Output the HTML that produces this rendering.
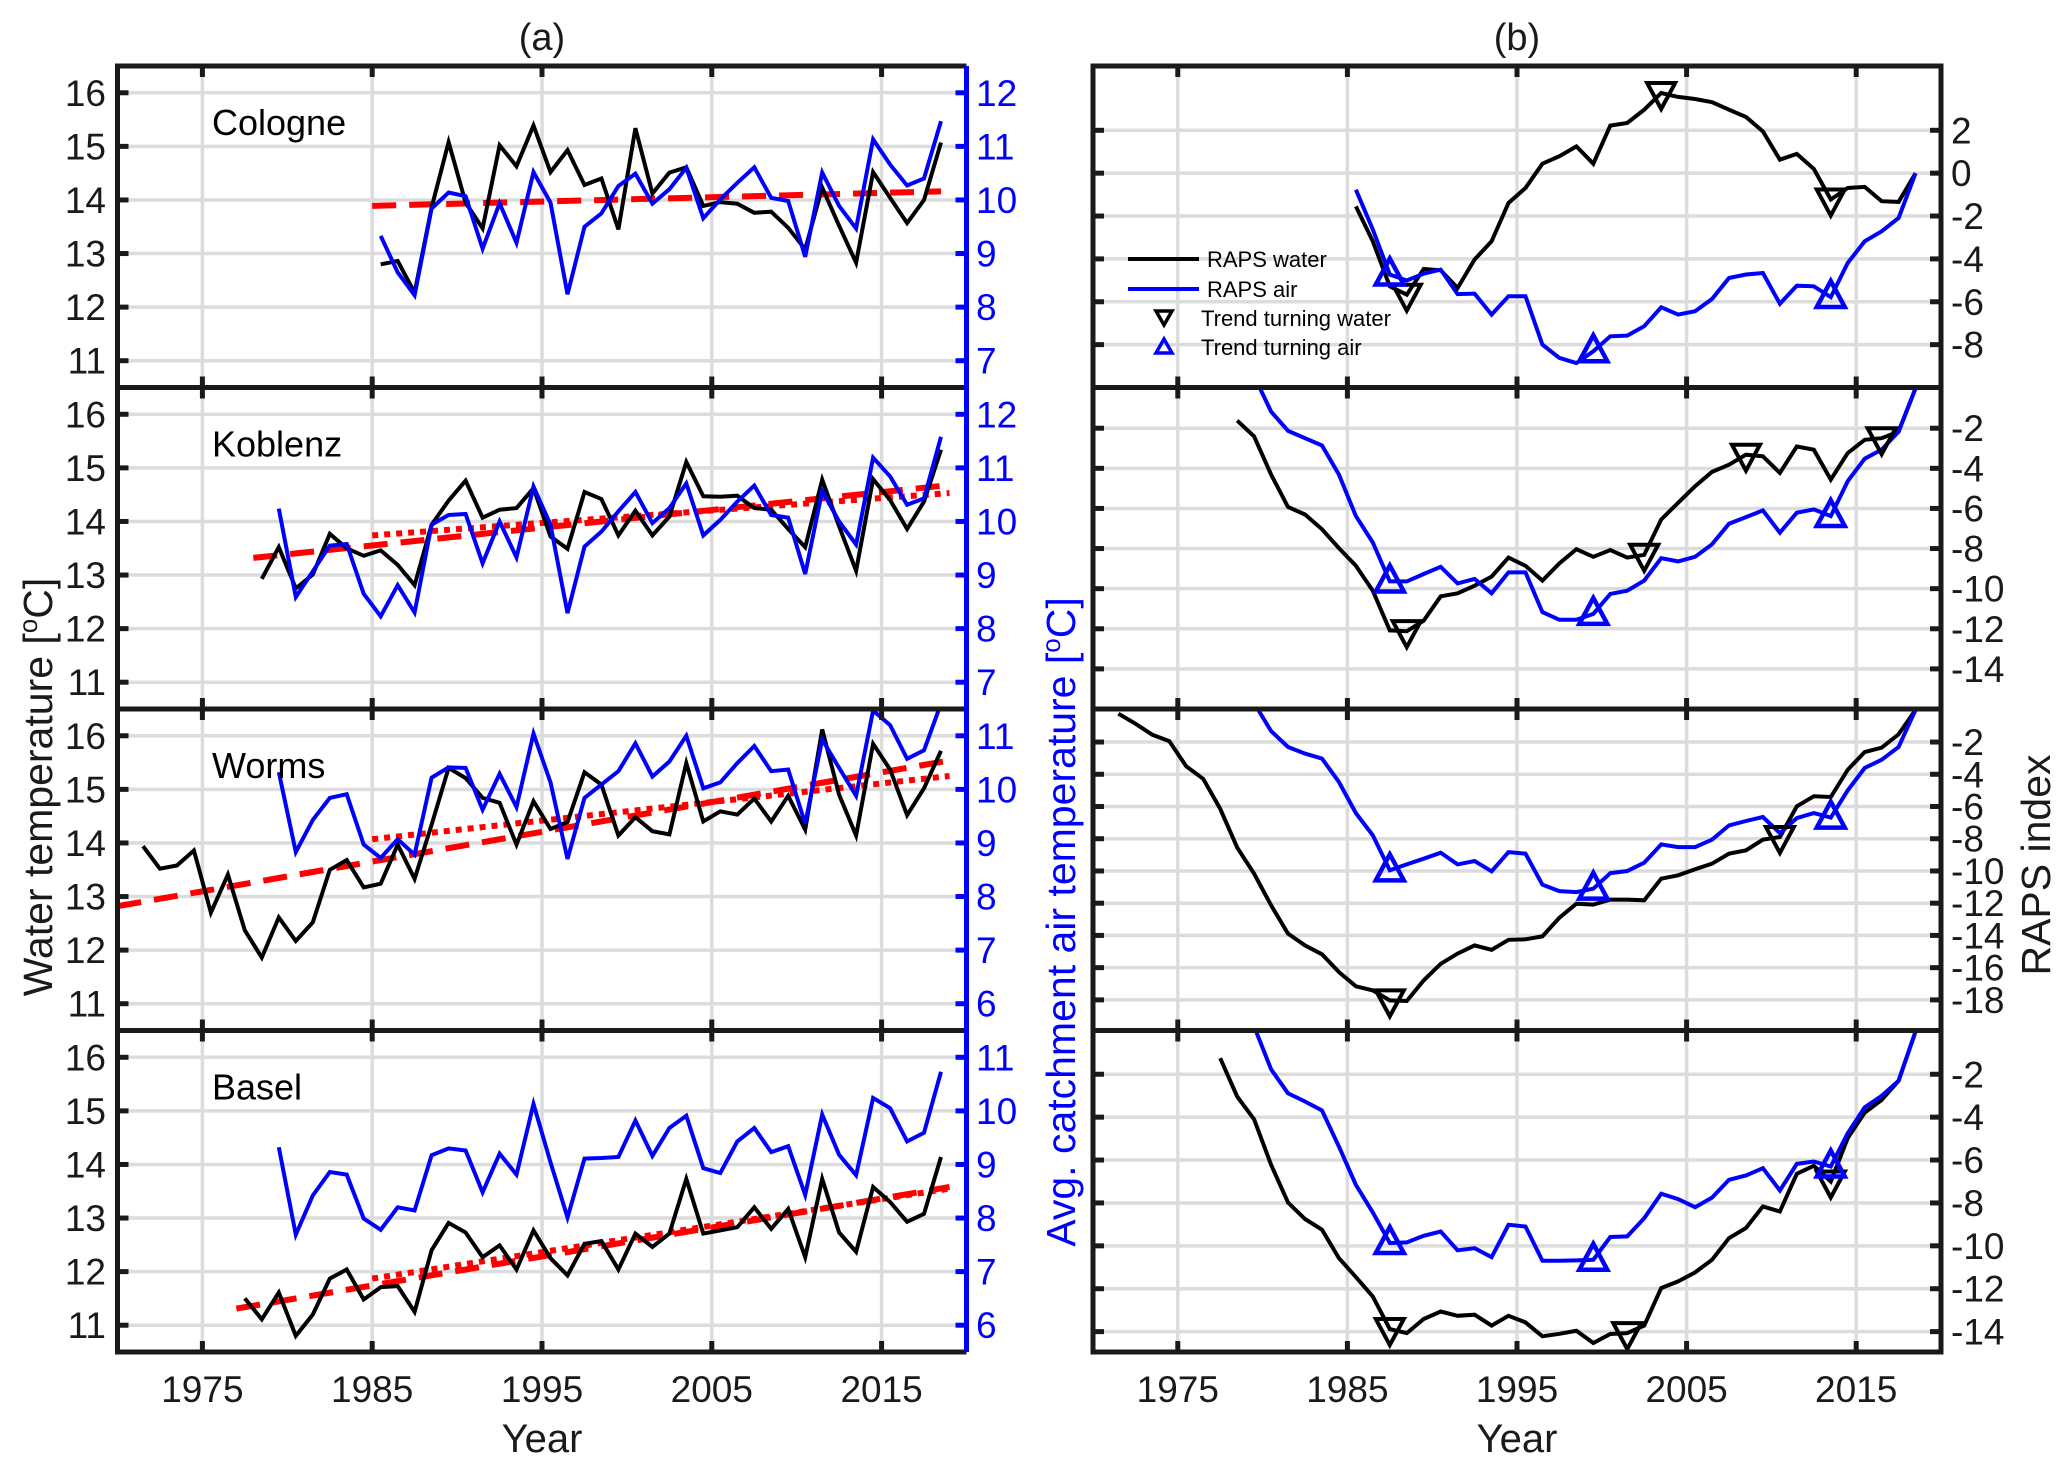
<!DOCTYPE html>
<html><head><meta charset="utf-8"><title>RAPS chart</title>
<style>html,body{margin:0;padding:0;background:#fff;}svg{display:block;font-family:"Liberation Sans",Arial,sans-serif;}</style>
</head><body>
<svg id="fig" xmlns="http://www.w3.org/2000/svg" width="2067" height="1470" viewBox="0 0 2067 1470">
<rect x="0" y="0" width="2067" height="1470" fill="#fff"/>
<text x="542" y="50" font-size="38" text-anchor="middle" fill="#1a1a1a">(a)</text>
<text x="1517" y="50" font-size="38" text-anchor="middle" fill="#1a1a1a">(b)</text>
<text x="542" y="1452" font-size="40" text-anchor="middle" fill="#1a1a1a">Year</text>
<text x="1517" y="1452" font-size="40" text-anchor="middle" fill="#1a1a1a">Year</text>
<text transform="translate(52,787) rotate(-90)" font-size="41" text-anchor="middle" fill="#1a1a1a">Water temperature [<tspan font-size="26" dy="-15">o</tspan><tspan dy="15">C]</tspan></text>
<text transform="translate(1075,922) rotate(-90)" font-size="41" text-anchor="middle" fill="#0000ff">Avg. catchment air temperature [<tspan font-size="26" dy="-15">o</tspan><tspan dy="15">C]</tspan></text>
<text transform="translate(2050,865) rotate(-90)" font-size="41" text-anchor="middle" fill="#1a1a1a">RAPS index</text>
<g id="plots"></g>
</svg>
<script>
const stations = ['Cologne','Koblenz','Worms','Basel'];
const waterStart = [1985.5,1978.5,1971.5,1977.5];
const airStart = [1985.5,1979.5,1979.5,1979.5];
const airOffset = [4,4,5,5];
const waterCologne=[12.80,12.86,12.27,13.86,15.08,13.95,13.47,15.02,14.63,15.39,14.52,14.93,14.28,14.40,13.45,15.34,14.12,14.51,14.61,13.89,13.96,13.93,13.76,13.78,13.48,13.08,14.23,13.52,12.83,14.52,14.04,13.57,14.00,15.07];
const airCologne=[9.33,8.65,8.22,9.84,10.14,10.07,9.09,9.94,9.20,10.52,9.95,8.24,9.50,9.75,10.26,10.49,9.93,10.20,10.60,9.66,10.01,10.32,10.61,10.04,9.98,8.94,10.51,9.89,9.47,11.13,10.66,10.27,10.40,11.47];
const waterKoblenz=[12.93,13.52,12.75,13.01,13.77,13.50,13.36,13.46,13.19,12.81,13.94,14.39,14.76,14.07,14.22,14.25,14.62,13.72,13.49,14.55,14.42,13.74,14.20,13.74,14.09,15.11,14.47,14.46,14.48,14.25,14.22,13.86,13.52,14.78,13.91,13.08,14.79,14.40,13.86,14.37,15.34];
const airKoblenz=[10.24,8.59,9.07,9.55,9.58,8.65,8.23,8.81,8.30,9.94,10.12,10.14,9.22,10.00,9.33,10.65,9.94,8.29,9.53,9.81,10.19,10.55,9.97,10.25,10.71,9.74,10.03,10.37,10.67,10.12,10.07,9.02,10.57,10.00,9.57,11.19,10.84,10.31,10.43,11.58];
const waterWorms=[13.94,13.52,13.58,13.86,12.70,13.41,12.37,11.86,12.61,12.17,12.52,13.50,13.68,13.17,13.24,13.97,13.33,14.34,15.40,15.21,14.84,14.75,13.97,14.78,14.26,14.39,15.32,15.09,14.14,14.48,14.22,14.16,15.49,14.40,14.59,14.53,14.83,14.40,14.88,14.25,16.12,14.90,14.14,15.85,15.37,14.52,15.02,15.72];
const airWorms=[10.32,8.83,9.43,9.84,9.91,8.97,8.72,9.07,8.78,10.22,10.41,10.40,9.62,10.29,9.67,11.04,10.13,8.70,9.84,10.09,10.34,10.86,10.24,10.52,11.00,10.02,10.13,10.49,10.81,10.34,10.37,9.36,10.93,10.40,9.88,11.47,11.20,10.57,10.73,11.60];
const waterBasel=[11.50,11.11,11.61,10.80,11.20,11.87,12.04,11.48,11.71,11.73,11.25,12.40,12.91,12.73,12.27,12.49,12.04,12.77,12.25,11.93,12.52,12.57,12.04,12.71,12.46,12.71,13.73,12.71,12.77,12.83,13.20,12.80,13.17,12.27,13.73,12.73,12.37,13.58,13.30,12.93,13.08,14.14];
const airBasel=[9.32,7.69,8.42,8.86,8.81,7.99,7.78,8.20,8.14,9.17,9.30,9.26,8.48,9.20,8.81,10.13,9.04,8.01,9.11,9.12,9.14,9.82,9.16,9.68,9.91,8.93,8.84,9.43,9.68,9.23,9.34,8.43,9.93,9.18,8.80,10.24,10.05,9.43,9.59,10.73];
const dashYears=[[1985,2018.5],[1978,2019],[1970,2019],[1977,2019]];
const dashVals=[[13.89,14.16],[13.32,14.68],[12.82,15.54],[11.31,13.58]];
const dotYears=[null,[1985,2019],[1985,2019],[1985,2019]];
const dotVals=[null,[13.74,14.53],[14.07,15.25],[11.87,13.55]];
const rapsWaterCologne=[-1.55,-3.18,-5.28,-5.67,-4.47,-4.53,-5.36,-4.03,-3.18,-1.39,-0.69,0.44,0.79,1.25,0.44,2.22,2.34,2.96,3.74,3.56,3.46,3.31,2.96,2.62,1.95,0.63,0.90,0.20,-1.23,-0.69,-0.64,-1.31,-1.34,0];
const rapsAirCologne=[-0.77,-2.63,-4.73,-5.01,-4.69,-4.50,-5.64,-5.62,-6.60,-5.74,-5.74,-8.00,-8.62,-8.86,-8.31,-7.61,-7.58,-7.14,-6.26,-6.60,-6.44,-5.87,-4.89,-4.73,-4.66,-6.09,-5.25,-5.28,-5.78,-4.19,-3.18,-2.71,-2.09,0];
const rapsWaterKoblenz=[-1.62,-2.41,-4.31,-5.93,-6.30,-7.04,-7.98,-8.86,-10.10,-12.08,-12.12,-11.59,-10.38,-10.23,-9.85,-9.40,-8.45,-8.86,-9.60,-8.74,-8.03,-8.41,-8.07,-8.45,-8.31,-6.55,-5.72,-4.89,-4.18,-3.82,-3.32,-3.40,-4.23,-2.91,-3.07,-4.56,-3.24,-2.58,-2.50,-2.17,0];
const rapsAirKoblenz=[0.61,-1.17,-2.13,-2.50,-2.86,-4.31,-6.38,-7.70,-9.64,-9.64,-9.27,-8.91,-9.74,-9.52,-10.23,-9.19,-9.19,-11.17,-11.55,-11.55,-11.26,-10.26,-10.10,-9.60,-8.48,-8.64,-8.41,-7.79,-6.76,-6.43,-6.10,-7.21,-6.21,-6.05,-6.38,-4.64,-3.52,-3.07,-2.17,0];
const rapsWaterWorms=[-0.24,-0.86,-1.55,-1.94,-3.51,-4.28,-6.14,-8.55,-10.17,-12.13,-13.89,-14.62,-15.17,-16.27,-17.16,-17.41,-18.03,-18.07,-16.79,-15.76,-15.13,-14.62,-14.89,-14.27,-14.24,-14.06,-12.90,-12.03,-12.09,-11.78,-11.78,-11.82,-10.48,-10.27,-9.90,-9.55,-8.93,-8.72,-8.06,-7.89,-5.99,-5.37,-5.41,-3.72,-2.62,-2.35,-1.52,0];
const rapsAirWorms=[0.42,-1.32,-2.31,-2.72,-3.03,-4.48,-6.41,-7.79,-9.96,-9.59,-9.24,-8.87,-9.59,-9.38,-10.02,-8.83,-8.93,-10.85,-11.25,-11.31,-11.10,-10.13,-10.00,-9.49,-8.35,-8.52,-8.52,-8.06,-7.17,-6.90,-6.65,-7.65,-6.72,-6.41,-6.69,-5.00,-3.61,-3.10,-2.31,0];
const rapsWaterBasel=[-1.25,-3.04,-4.10,-6.22,-7.98,-8.75,-9.25,-10.57,-11.46,-12.36,-13.88,-14.07,-13.41,-13.06,-13.26,-13.21,-13.72,-13.26,-13.57,-14.22,-14.10,-13.96,-14.53,-14.11,-14.07,-13.72,-11.97,-11.66,-11.24,-10.65,-9.64,-9.17,-8.16,-8.40,-6.64,-6.27,-7.00,-4.98,-3.79,-3.20,-2.30,0];
const rapsAirBasel=[0.23,-1.77,-2.89,-3.27,-3.69,-5.37,-7.16,-8.44,-9.87,-9.84,-9.53,-9.33,-10.21,-10.11,-10.53,-9.02,-9.10,-10.70,-10.70,-10.68,-10.65,-9.59,-9.56,-8.71,-7.57,-7.82,-8.20,-7.75,-6.92,-6.72,-6.38,-7.42,-6.18,-6.07,-6.30,-4.75,-3.54,-3.01,-2.30,0];
const waterTurn=[[1988.5,2003.5,2013.5],[1988.5,2002.5,2008.5,2016.5],[1987.5,2010.5],[1987.5,2001.5,2013.5]];
const airTurn=[[1987.5,1999.5,2013.5],[1987.5,1999.5,2013.5],[1987.5,1999.5,2013.5],[1987.5,1999.5,2013.5]];
const xTickYears=[1975,1985,1995,2005,2015];
const waterTicks=[11,12,13,14,15,16];
const airTicksA=[7,8,9,10,11,12];
const airTicksB=[6,7,8,9,10,11];
const rapsTicks=[[2,0,-2,-4,-6,-8],[-2,-4,-6,-8,-10,-12,-14],[-2,-4,-6,-8,-10,-12,-14,-16,-18],[-2,-4,-6,-8,-10,-12,-14]];
const rapsDomains=[[-10,5],[-16,0.03],[-19.9,0.05],[-14.95,0.04]];
const waterDomain=[10.5,16.5];

const waterData=[waterCologne,waterKoblenz,waterWorms,waterBasel];
const airData=[airCologne,airKoblenz,airWorms,airBasel];
const rapsWater=[rapsWaterCologne,rapsWaterKoblenz,rapsWaterWorms,rapsWaterBasel];
const rapsAir=[rapsAirCologne,rapsAirKoblenz,rapsAirWorms,rapsAirBasel];

const NS='http://www.w3.org/2000/svg';
const LX0=117.5,LX1=966.5,RX0=1093,RX1=1941,PH=321.5;
const TOPS=[66,387.5,709,1030.5];
const FS=37, LW=4, AW=5;
const root=document.getElementById('plots');
function xL(y){return LX0+(y-1970)/50*(LX1-LX0);}
function xR(y){return RX0+(y-1970)/50*(RX1-RX0);}
function yS(v,lo,hi,top){return top+(hi-v)/(hi-lo)*PH;}
function mk(tag,attrs,parent){const e=document.createElementNS(NS,tag);for(const k in attrs)e.setAttribute(k,attrs[k]);(parent||root).appendChild(e);return e;}
function pts(start,vals,xf,yf){return vals.map((v,i)=>xf(start+i).toFixed(1)+','+yf(v).toFixed(1)).join(' ');}

const defs=mk('defs',{});



for(let p=0;p<4;p++){
  const top=TOPS[p], bot=top+PH;
  const cl=mk('clipPath',{id:'cl'+p},defs);
  
  
  mk('rect',{x:LX0,y:top,width:LX1-LX0,height:PH},cl);
  const cr=mk('clipPath',{id:'cr'+p},defs);
  
  
  mk('rect',{x:RX0,y:top,width:RX1-RX0,height:PH},cr);

  const yW=v=>yS(v,waterDomain[0],waterDomain[1],top);
  const yA=v=>yW(v+airOffset[p]);
  const rd=rapsDomains[p];
  const yR=v=>yS(v,rd[0],rd[1],top);

  // ---------- left panel ----------
  const gl=mk('g',{});
  
  
  for(const t of waterTicks){
    const g=mk('line',{x1:LX0,x2:LX1,y1:yW(t),y2:yW(t),stroke:'#dcdcdc','stroke-width':3.5},gl);
    
    
  }
  for(const yr of xTickYears){
    const g=mk('line',{x1:xL(yr),x2:xL(yr),y1:top,y2:bot,stroke:'#dcdcdc','stroke-width':3.5},gl);
    
    
  }
  const gd=mk('g',{'clip-path':'url(#cl'+p+')'},gl);
  
  
  const dl=mk('polyline',{points:[[dashYears[p][0],dashVals[p][0]],[dashYears[p][1],dashVals[p][1]]].map(a=>xL(a[0])+','+yW(a[1])).join(' '),fill:'none',stroke:'#ff0000','stroke-width':6,'stroke-dasharray':'24 13'},gd);
  
  
  if(dotYears[p]){
    const dt=mk('polyline',{points:[[dotYears[p][0],dotVals[p][0]],[dotYears[p][1],dotVals[p][1]]].map(a=>xL(a[0])+','+yW(a[1])).join(' '),fill:'none',stroke:'#ff0000','stroke-width':6,'stroke-dasharray':'6 6'},gd);
    
    
  }
  const wl=mk('polyline',{points:pts(waterStart[p],waterData[p],xL,yW),fill:'none',stroke:'#000','stroke-width':LW},gd);
  
  
  const al=mk('polyline',{points:pts(airStart[p],airData[p],xL,yA),fill:'none',stroke:'#0000ff','stroke-width':LW},gd);
  
  
  for(const t of waterTicks){
    const tk=mk('line',{x1:LX0,x2:LX0+11,y1:yW(t),y2:yW(t),stroke:'#1a1a1a','stroke-width':AW},gl);
    
    
    const tl=mk('text',{x:106,y:yW(t)+13,'font-size':FS,'text-anchor':'end',fill:'#1a1a1a'},gl);
    tl.textContent=t;
    
    
  }
  const aT=airOffset[p]===4?airTicksA:airTicksB;
  for(const t of aT){
    const tk=mk('line',{x1:LX1-11,x2:LX1,y1:yA(t),y2:yA(t),stroke:'#0000ff','stroke-width':AW},gl);
    
    
    const tl=mk('text',{x:976,y:yA(t)+13,'font-size':FS,fill:'#0000ff'},gl);
    tl.textContent=t;
    
    
  }
  for(const yr of xTickYears){
    const t1=mk('line',{x1:xL(yr),x2:xL(yr),y1:top,y2:top+11,stroke:'#1a1a1a','stroke-width':AW},gl);
    
    
    const t2=mk('line',{x1:xL(yr),x2:xL(yr),y1:bot-11,y2:bot,stroke:'#1a1a1a','stroke-width':AW},gl);
    
    
  }
  const st=mk('text',{x:212,y:top+69,'font-size':36,fill:'#000'},gl);
  st.textContent=stations[p];
  
  
  const bx=mk('path',{d:`M${LX1},${top} H${LX0} V${bot} H${LX1}`,fill:'none',stroke:'#1a1a1a','stroke-width':AW},gl);
  
  

  // ---------- right panel ----------
  const gr=mk('g',{});
  
  
  for(const t of rapsTicks[p]){
    const g=mk('line',{x1:RX0,x2:RX1,y1:yR(t),y2:yR(t),stroke:'#dcdcdc','stroke-width':3.5},gr);
    
    
  }
  for(const yr of xTickYears){
    const g=mk('line',{x1:xR(yr),x2:xR(yr),y1:top,y2:bot,stroke:'#dcdcdc','stroke-width':3.5},gr);
    
    
  }
  const gs=mk('g',{'clip-path':'url(#cr'+p+')'},gr);
  
  
  const rw=mk('polyline',{points:pts(waterStart[p],rapsWater[p],xR,yR),fill:'none',stroke:'#000','stroke-width':LW},gs);
  
  
  const ra=mk('polyline',{points:pts(airStart[p],rapsAir[p],xR,yR),fill:'none',stroke:'#0000ff','stroke-width':LW},gs);
  
  
  for(const yr of waterTurn[p]){
    const v=rapsWater[p][Math.round(yr-waterStart[p])];
    const cx=xR(yr), cy=yR(v);
    const m=mk('polygon',{points:`${cx-14},${cy-10} ${cx+14},${cy-10} ${cx},${cy+16}`,fill:'none',stroke:'#000','stroke-width':4},gs);
    
    
  }
  for(const yr of airTurn[p]){
    const v=rapsAir[p][Math.round(yr-airStart[p])];
    const cx=xR(yr), cy=yR(v);
    const m=mk('polygon',{points:`${cx-14},${cy+10} ${cx+14},${cy+10} ${cx},${cy-16}`,fill:'none',stroke:'#0000ff','stroke-width':4.5},gs);
    
    
  }
  for(const t of rapsTicks[p]){
    const a=mk('line',{x1:RX0,x2:RX0+11,y1:yR(t),y2:yR(t),stroke:'#1a1a1a','stroke-width':AW},gr);
    
    
    const b=mk('line',{x1:RX1-11,x2:RX1,y1:yR(t),y2:yR(t),stroke:'#1a1a1a','stroke-width':AW},gr);
    
    
    const tl=mk('text',{x:1951,y:yR(t)+13,'font-size':FS,fill:'#1a1a1a'},gr);
    tl.textContent=(t<0?'-'+(-t):''+t);
    
    
  }
  for(const yr of xTickYears){
    const t1=mk('line',{x1:xR(yr),x2:xR(yr),y1:top,y2:top+11,stroke:'#1a1a1a','stroke-width':AW},gr);
    
    
    const t2=mk('line',{x1:xR(yr),x2:xR(yr),y1:bot-11,y2:bot,stroke:'#1a1a1a','stroke-width':AW},gr);
    
    
  }
  const rb=mk('rect',{x:RX0,y:top,width:RX1-RX0,height:PH,fill:'none',stroke:'#1a1a1a','stroke-width':AW},gr);
  
  
}
const ba=mk('line',{x1:LX1,x2:LX1,y1:TOPS[0],y2:TOPS[3]+PH,stroke:'#0000ff','stroke-width':AW});


for(const yr of xTickYears){
  const a=mk('text',{x:xL(yr),y:1402,'font-size':FS,'text-anchor':'middle',fill:'#1a1a1a'});
  a.textContent=yr;
  
  
  const b=mk('text',{x:xR(yr),y:1402,'font-size':FS,'text-anchor':'middle',fill:'#1a1a1a'});
  b.textContent=yr;
  
  
}
const lg=mk('g',{});


const l1=mk('line',{x1:1128,x2:1199,y1:259,y2:259,stroke:'#000','stroke-width':LW},lg);


const t1=mk('text',{x:1207,y:267,'font-size':22,fill:'#000'},lg);
t1.textContent='RAPS water';


const l2=mk('line',{x1:1128,x2:1199,y1:289,y2:289,stroke:'#0000ff','stroke-width':LW},lg);


const t2=mk('text',{x:1207,y:297,'font-size':22,fill:'#000'},lg);
t2.textContent='RAPS air';


const m1=mk('polygon',{points:'1156,311 1172,311 1164,325',fill:'none',stroke:'#000','stroke-width':3.5},lg);


const t3=mk('text',{x:1201,y:326,'font-size':22,fill:'#000'},lg);
t3.textContent='Trend turning water';


const m2=mk('polygon',{points:'1156,353 1172,353 1164,339',fill:'none',stroke:'#0000ff','stroke-width':3.5},lg);


const t4=mk('text',{x:1201,y:355,'font-size':22,fill:'#000'},lg);
t4.textContent='Trend turning air';


</script>
</body></html>
